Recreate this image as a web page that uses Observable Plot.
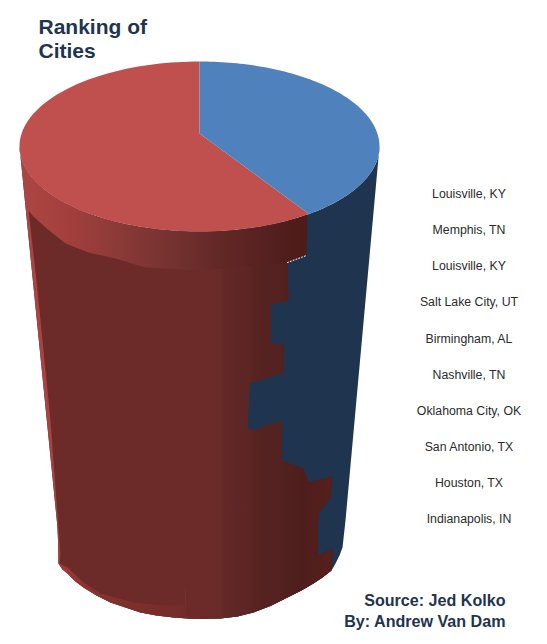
<!DOCTYPE html>
<html>
<head>
<meta charset="utf-8">
<script src="https://cdn.jsdelivr.net/npm/d3@7"></script>
<script src="https://cdn.jsdelivr.net/npm/@observablehq/plot@0.6"></script>
<style>html,body{margin:0;padding:0;background:#fff}svg{display:block}</style>
</head>
<body>
<script>
const cities = ["Louisville, KY","Memphis, TN","Louisville, KY","Salt Lake City, UT","Birmingham, AL","Nashville, TN","Oklahoma City, OK","San Antonio, TX","Houston, TX","Indianapolis, IN"];
const cityY = [194,230,266,302,339,375,411,447,483,519];
const shareBlue = 39.6;
const shareRed = 60.4;
// divide between the two colours down the side of the cylinder
const boundaryX = [307,306,287,288,270,270,283,283,249,247,252,281,281,303,308,332,330,318,317,332,331];
const boundaryY = [214,255,262,300,304,343,344,372,383,428,430,420,460,468,482,476,497,513,555,548,570];
// cylinder outline below the lid, left to right
const wallLeftX = [19,57,58,58,62,67,75,83,96,110,125,140,156,173,187,200,220,237,253,270,287,301,313,322,331];
const wallLeftY = [146,527,553,563,569,573,581,587,595,602,607,612,615,617,618,618.5,618,616,612,605.5,597,590,583,577,570];
const wallRightX = [335,339,342,345,379];
const wallRightY = [563,555,547,520,146];
// front panel outline
const panelX = [28,32,45,65,88,115,145,200,287,288,270,270,283,283,249,247,252,281,281,303,308,332,330,318,317,332,331,322,313,301,287,270,253,237,220,200,187,185,160,133,100,83,67,59,60,50,36];
const panelY = [210,215,227,243,252,258,267,270,262,300,304,343,344,372,383,428,430,420,460,468,482,476,497,513,555,548,570,577,583,590,597,605.5,612,616,618,618.5,618,605,605,602,593,582,567,563,553,420,280];
const lid = {cx:199, cy:146, rx:180, ry:85, apexY:133};

const pts = (xs, ys) => xs.map((x,i)=>({x, y:ys[i]}));
const lidAt = t => ({x: lid.cx + lid.rx*Math.sin(t), y: lid.cy - lid.ry*Math.cos(t)});
const turn = 2*Math.PI;
const arc = (a,b) => d3.range(0,121).map(i=>lidAt(a+(b-a)*i/120));
const apex = {x:lid.cx, y:lid.apexY};
const blueSlice = [apex, ...arc(0, turn*shareBlue/100), apex];
const redSlice  = [apex, ...arc(turn*shareBlue/100, turn), apex];
const leftWall = pts(wallLeftX, wallLeftY);
const silhouette = [...leftWall, ...pts(wallRightX,wallRightY), ...arc(turn*0.25, turn*0.75)];
const redFront = [...arc(turn*shareBlue/100, turn*0.75), ...leftWall, ...pts(boundaryX,boundaryY).reverse()];
const lowerBand = [{x:57,y:520}, ...leftWall.slice(2,15), {x:187,y:520}];

function gradient(id, stops){
  return `<linearGradient id="${id}" gradientUnits="userSpaceOnUse" x1="19" x2="345" y1="0" y2="0">`+
    stops.map(([o,c])=>`<stop offset="${(o-19)/326}" stop-color="${c}"/>`).join("")+`</linearGradient>`;
}
const defs = () => {
  const s = d3.create("svg:defs");
  s.html(
    gradient("rim",[[19,"#ad4643"],[70,"#a23f3c"],[120,"#8a3a37"],[170,"#753230"],[220,"#622826"],[270,"#552020"],[310,"#4c1a17"],[345,"#3f1513"]])+
    gradient("low",[[57,"#a23d3a"],[80,"#8d3431"],[130,"#7e2f2c"],[187,"#732c2a"]])+
    gradient("body",[[30,"#6c2a28"],[205,"#6c2b29"],[222,"#682a28"],[224,"#612826"],[250,"#5c2624"],[252,"#582321"],[285,"#512120"],[300,"#4e1e1c"],[330,"#551f1c"]])
  );
  return s.node();
};
const poly = (data, fill) => Plot.line(data,{x:"x",y:"y",fill,stroke:"none",curve:"linear"});

const plot = Plot.plot({
  width:547, height:644, margin:0,
  x:{axis:null, domain:[0,547], range:[0,547]},
  y:{axis:null, domain:[0,644], range:[0,644]},
  style:{background:"#fff"},
  marks:[
    defs,
    poly(silhouette,"#1f344f"),
    poly(redFront,"url(#rim)"),
    poly(lowerBand,"url(#low)"),
    poly(pts(panelX,panelY),"url(#body)"),
    Plot.line([{x:185,y:588},{x:185,y:605}],{x:"x",y:"y",stroke:"#7a3532",strokeOpacity:0.6,strokeWidth:1}),
    Plot.line([{x:287,y:262},{x:306,y:255}],{x:"x",y:"y",stroke:"#fff",strokeWidth:1,strokeDasharray:"1,2"}),
    poly(redSlice,"#bf504d"),
    poly(blueSlice,"#4f81bd"),
    Plot.text(["Ranking of","Cities"],{x:()=>38,y:(d,i)=>27+i*24,text:d=>d,textAnchor:"start",fontFamily:"Liberation Sans",fontWeight:"bold",fontSize:21,fill:"#1f344f"}),
    Plot.text(cities,{x:()=>468.5,y:(d,i)=>cityY[i],text:d=>d,fontFamily:"Liberation Sans",fontSize:12.3,fill:"#2b2b2b"}),
    Plot.text(["Source: Jed Kolko","By: Andrew Van Dam"],{x:()=>505,y:(d,i)=>600+i*21,text:d=>d,textAnchor:"end",fontFamily:"Liberation Sans",fontWeight:"bold",fontSize:16.1,fill:"#1f344f"})
  ]
});
document.body.appendChild(plot);
</script>
</body>
</html>
